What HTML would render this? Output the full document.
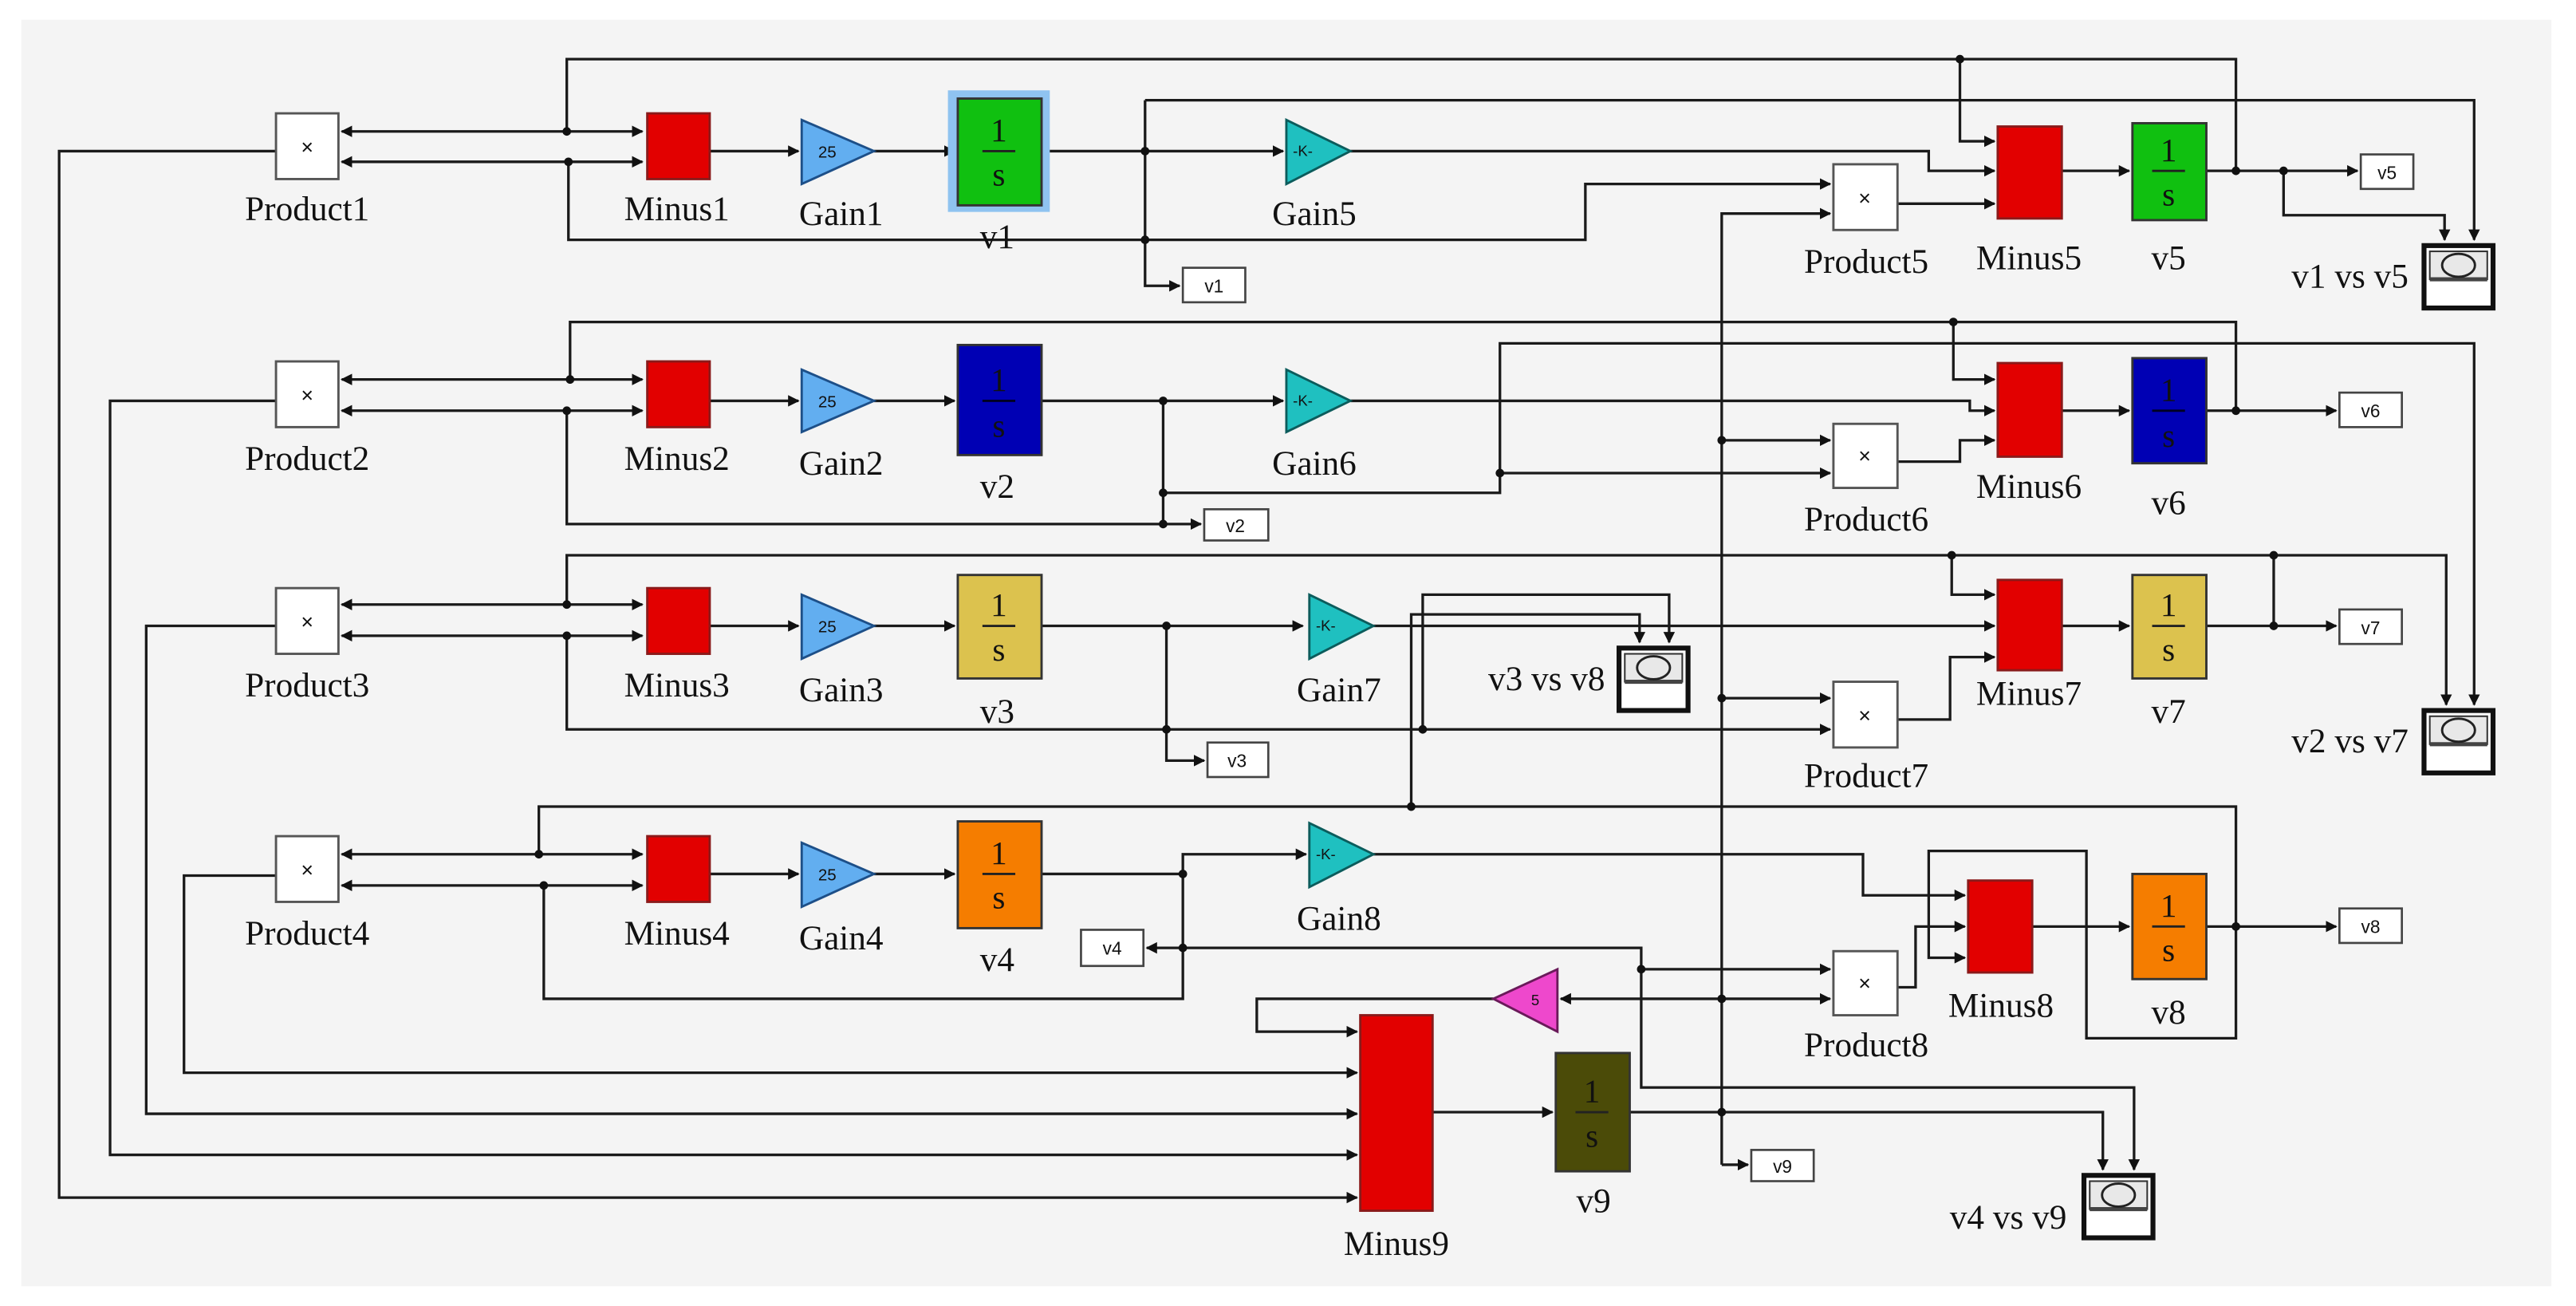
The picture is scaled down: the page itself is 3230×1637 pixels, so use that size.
<!DOCTYPE html>
<html><head><meta charset="utf-8"><style>
html,body{margin:0;padding:0;background:#fff;}
svg{display:block;}
text{font-family:"Liberation Serif",serif;fill:#111;}
</style></head><body>
<svg width="3230" height="1637" viewBox="0 0 1568 795" preserveAspectRatio="none" xmlns="http://www.w3.org/2000/svg">
<defs>
<marker id="a" viewBox="0 0 10 10" refX="9" refY="5" markerWidth="7" markerHeight="7" orient="auto" markerUnits="userSpaceOnUse"><path d="M0,0L10,5L0,10z" fill="#111"/></marker>
</defs>
<rect x="0" y="0" width="1568" height="795" fill="#fff"/>
<rect x="13" y="12" width="1540" height="771" fill="#f4f4f4"/>
<g fill="none" stroke="#1a1a1a" stroke-width="1.6">
<!-- Row1 -->
<path d="M345 80V36H1361V104"/>
<path d="M1193 36V86H1214" marker-end="url(#a)"/>
<path d="M345 80H208" marker-end="url(#a)"/><path d="M345 80H391" marker-end="url(#a)"/>
<path d="M346 98.5H208" marker-end="url(#a)"/><path d="M346 98.5H391" marker-end="url(#a)"/>
<path d="M346 98.5V146H965V112H1114" marker-end="url(#a)"/>
<path d="M168 92H36V729H826" marker-end="url(#a)"/>
<path d="M432 92H486" marker-end="url(#a)"/><path d="M532 92H581" marker-end="url(#a)"/>
<path d="M634 92H781" marker-end="url(#a)"/>
<path d="M697 61V174H718" marker-end="url(#a)"/>
<path d="M697 61H1506V146" marker-end="url(#a)"/>
<path d="M822 92H1174V104H1214" marker-end="url(#a)"/>
<path d="M1155 124H1214" marker-end="url(#a)"/>
<path d="M1255 104H1296" marker-end="url(#a)"/>
<path d="M1343 104H1435" marker-end="url(#a)"/>
<path d="M1390 104V131H1488V146" marker-end="url(#a)"/>
<path d="M1048 709V130H1114" marker-end="url(#a)"/>
<path d="M1048 709H1064" marker-end="url(#a)"/>
<!-- Row2 -->
<path d="M347 231V196H1361V250"/>
<path d="M1189 196V231H1214" marker-end="url(#a)"/>
<path d="M347 231H208" marker-end="url(#a)"/><path d="M347 231H391" marker-end="url(#a)"/>
<path d="M345 250H208" marker-end="url(#a)"/><path d="M345 250H391" marker-end="url(#a)"/>
<path d="M345 250V319H731" marker-end="url(#a)"/>
<path d="M168 244H67V703H826" marker-end="url(#a)"/>
<path d="M432 244H486" marker-end="url(#a)"/><path d="M532 244H581" marker-end="url(#a)"/>
<path d="M634 244H781" marker-end="url(#a)"/>
<path d="M708 244V319"/>
<path d="M708 300H913V209H1506V429" marker-end="url(#a)"/>
<path d="M913 288H1114" marker-end="url(#a)"/>
<path d="M1048 268H1114" marker-end="url(#a)"/>
<path d="M1155 281H1193V268H1214" marker-end="url(#a)"/>
<path d="M822 244H1199V250H1214" marker-end="url(#a)"/>
<path d="M1255 250H1296" marker-end="url(#a)"/>
<path d="M1343 250H1422" marker-end="url(#a)"/>
<!-- Row3 -->
<path d="M345 368V338H1489V429" marker-end="url(#a)"/>
<path d="M1188 338V362H1214" marker-end="url(#a)"/>
<path d="M1384 338V381"/>
<path d="M345 368H208" marker-end="url(#a)"/><path d="M345 368H391" marker-end="url(#a)"/>
<path d="M345 387H208" marker-end="url(#a)"/><path d="M345 387H391" marker-end="url(#a)"/>
<path d="M345 387V444H1114" marker-end="url(#a)"/>
<path d="M168 381H89V678H826" marker-end="url(#a)"/>
<path d="M432 381H486" marker-end="url(#a)"/><path d="M532 381H581" marker-end="url(#a)"/>
<path d="M634 381H793" marker-end="url(#a)"/>
<path d="M710 381V463H733" marker-end="url(#a)"/>
<path d="M836 381H1214" marker-end="url(#a)"/>
<path d="M866 444V362H1016V391" marker-end="url(#a)"/>
<path d="M859 491V374H998V391" marker-end="url(#a)"/>
<path d="M1048 425H1114" marker-end="url(#a)"/>
<path d="M1155 438H1187V400H1214" marker-end="url(#a)"/>
<path d="M1255 381H1296" marker-end="url(#a)"/>
<path d="M1343 381H1422" marker-end="url(#a)"/>
<!-- Row4 -->
<path d="M328 520V491H1361V632H1270V518H1174V583H1196" marker-end="url(#a)"/>
<path d="M328 520H208" marker-end="url(#a)"/><path d="M328 520H391" marker-end="url(#a)"/>
<path d="M331 539H208" marker-end="url(#a)"/><path d="M331 539H391" marker-end="url(#a)"/>
<path d="M331 539V608H720V532"/>
<path d="M168 533H112V653H826" marker-end="url(#a)"/>
<path d="M432 532H486" marker-end="url(#a)"/><path d="M532 532H581" marker-end="url(#a)"/>
<path d="M634 532H720V520H795" marker-end="url(#a)"/>
<path d="M720 577H698" marker-end="url(#a)"/>
<path d="M720 577H999V662H1299V712" marker-end="url(#a)"/>
<path d="M999 590H1114" marker-end="url(#a)"/>
<path d="M836 520H1134V545H1196" marker-end="url(#a)"/>
<path d="M1048 608H950" marker-end="url(#a)"/>
<path d="M1048 608H1114" marker-end="url(#a)"/>
<path d="M909 608H765V628H826" marker-end="url(#a)"/>
<path d="M1155 601H1166V564H1196" marker-end="url(#a)"/>
<path d="M1237 564H1296" marker-end="url(#a)"/>
<path d="M1343 564H1422" marker-end="url(#a)"/>
<path d="M872 677H945" marker-end="url(#a)"/>
<path d="M992 677H1280V712" marker-end="url(#a)"/>
</g>
<!-- dots -->
<g fill="#111">
<circle cx="345" cy="80" r="2.6"/><circle cx="346" cy="98.5" r="2.6"/><circle cx="697" cy="146" r="2.6"/><circle cx="697" cy="92" r="2.6"/><circle cx="1193" cy="36" r="2.6"/><circle cx="1361" cy="104" r="2.6"/><circle cx="1390" cy="104" r="2.6"/>
<circle cx="347" cy="231" r="2.6"/><circle cx="345" cy="250" r="2.6"/><circle cx="708" cy="244" r="2.6"/><circle cx="708" cy="300" r="2.6"/><circle cx="708" cy="319" r="2.6"/><circle cx="913" cy="288" r="2.6"/><circle cx="1189" cy="196" r="2.6"/><circle cx="1048" cy="268" r="2.6"/><circle cx="1361" cy="250" r="2.6"/>
<circle cx="345" cy="368" r="2.6"/><circle cx="345" cy="387" r="2.6"/><circle cx="710" cy="381" r="2.6"/><circle cx="710" cy="444" r="2.6"/><circle cx="866" cy="444" r="2.6"/><circle cx="1188" cy="338" r="2.6"/><circle cx="1384" cy="338" r="2.6"/><circle cx="1384" cy="381" r="2.6"/><circle cx="1048" cy="425" r="2.6"/>
<circle cx="328" cy="520" r="2.6"/><circle cx="331" cy="539" r="2.6"/><circle cx="720" cy="532" r="2.6"/><circle cx="720" cy="577" r="2.6"/><circle cx="859" cy="491" r="2.6"/><circle cx="999" cy="590" r="2.6"/><circle cx="1048" cy="608" r="2.6"/><circle cx="1048" cy="677" r="2.6"/><circle cx="1361" cy="564" r="2.6"/>
</g>
<!-- Products -->
<g fill="#fff" stroke="#555" stroke-width="1.4">
<rect x="168" y="69" width="38" height="40"/><rect x="168" y="220" width="38" height="40"/><rect x="168" y="358" width="38" height="40"/><rect x="168" y="509" width="38" height="40"/>
<rect x="1116" y="100" width="39" height="40"/><rect x="1116" y="258" width="39" height="39"/><rect x="1116" y="415" width="39" height="40"/><rect x="1116" y="579" width="39" height="39"/>
</g>
<g font-family="Liberation Sans,sans-serif" font-size="13" text-anchor="middle">
<text x="187" y="94" style="font-family:'Liberation Sans',sans-serif">×</text><text x="187" y="245" style="font-family:'Liberation Sans',sans-serif">×</text><text x="187" y="383" style="font-family:'Liberation Sans',sans-serif">×</text><text x="187" y="534" style="font-family:'Liberation Sans',sans-serif">×</text>
<text x="1135" y="125" style="font-family:'Liberation Sans',sans-serif">×</text><text x="1135" y="282" style="font-family:'Liberation Sans',sans-serif">×</text><text x="1135" y="440" style="font-family:'Liberation Sans',sans-serif">×</text><text x="1135" y="603" style="font-family:'Liberation Sans',sans-serif">×</text>
</g>
<!-- Minus blocks -->
<g fill="#e20000" stroke="#8a1a1a" stroke-width="1.4">
<rect x="394" y="69" width="38" height="40"/><rect x="394" y="220" width="38" height="40"/><rect x="394" y="358" width="38" height="40"/><rect x="394" y="509" width="38" height="40"/>
<rect x="1216" y="77" width="39" height="56"/><rect x="1216" y="221" width="39" height="57"/><rect x="1216" y="353" width="39" height="55"/><rect x="1198" y="536" width="39" height="56"/>
<rect x="828" y="618" width="44" height="119"/>
</g>
<!-- Gains 25 -->
<g fill="#62aef0" stroke="#1d4f88" stroke-width="1.4">
<path d="M488 73L532 92L488 112Z"/><path d="M488 225L532 244L488 263Z"/><path d="M488 362L532 381L488 401Z"/><path d="M488 513L532 532L488 552Z"/>
</g>
<g font-size="10" style="font-family:'Liberation Sans',sans-serif" fill="#123">
<text x="498" y="96" style="font-family:'Liberation Sans',sans-serif;font-size:10px">25</text><text x="498" y="248" style="font-family:'Liberation Sans',sans-serif;font-size:10px">25</text><text x="498" y="385" style="font-family:'Liberation Sans',sans-serif;font-size:10px">25</text><text x="498" y="536" style="font-family:'Liberation Sans',sans-serif;font-size:10px">25</text>
</g>
<!-- Gains K -->
<g fill="#1fc0c0" stroke="#0c5c5c" stroke-width="1.4">
<path d="M783 73L822 92L783 112Z"/><path d="M783 225L822 244L783 263Z"/><path d="M797 362L836 381L797 401Z"/><path d="M797 501L836 520L797 540Z"/>
</g>
<g style="font-family:'Liberation Sans',sans-serif;font-size:9px">
<text x="787" y="95" style="font-family:'Liberation Sans',sans-serif;font-size:9px">-K-</text><text x="787" y="247" style="font-family:'Liberation Sans',sans-serif;font-size:9px">-K-</text><text x="801" y="384" style="font-family:'Liberation Sans',sans-serif;font-size:9px">-K-</text><text x="801" y="523" style="font-family:'Liberation Sans',sans-serif;font-size:9px">-K-</text>
</g>
<!-- pink gain -->
<path d="M948 590L909 608L948 628Z" fill="#ee48cc" stroke="#6a1a5a" stroke-width="1.4"/>
<text x="932" y="612" style="font-family:'Liberation Sans',sans-serif;font-size:9px">5</text>
<!-- Integrators -->
<rect x="577" y="55" width="62" height="74" fill="#8fc3f0"/>
<g stroke="#333" stroke-width="1.4">
<rect x="583" y="60" width="51" height="65" fill="#10c010"/>
<rect x="583" y="210" width="51" height="67" fill="#0000b4"/>
<rect x="583" y="350" width="51" height="63" fill="#dcc24e"/>
<rect x="583" y="500" width="51" height="65" fill="#f57d00"/>
<rect x="1298" y="75" width="45" height="59" fill="#10c010"/>
<rect x="1298" y="218" width="45" height="64" fill="#0000b4"/>
<rect x="1298" y="350" width="45" height="63" fill="#dcc24e"/>
<rect x="1298" y="532" width="45" height="64" fill="#f57d00"/>
<rect x="947" y="641" width="45" height="72" fill="#4b4b08"/>
</g>
<g text-anchor="middle" font-size="20">
<text x="608" y="86">1</text><line x1="598" y1="92" x2="618" y2="92" stroke="#222" stroke-width="1.4"/><text x="608" y="113">s</text>
<text x="608" y="238" fill="#002">1</text><line x1="598" y1="244" x2="618" y2="244" stroke="#002" stroke-width="1.4"/><text x="608" y="266" fill="#002">s</text>
<text x="608" y="375">1</text><line x1="598" y1="381" x2="618" y2="381" stroke="#222" stroke-width="1.4"/><text x="608" y="402">s</text>
<text x="608" y="526">1</text><line x1="598" y1="532" x2="618" y2="532" stroke="#222" stroke-width="1.4"/><text x="608" y="553">s</text>
<text x="1320" y="98">1</text><line x1="1310" y1="104" x2="1330" y2="104" stroke="#222" stroke-width="1.4"/><text x="1320" y="125">s</text>
<text x="1320" y="244" fill="#002">1</text><line x1="1310" y1="250" x2="1330" y2="250" stroke="#002" stroke-width="1.4"/><text x="1320" y="272" fill="#002">s</text>
<text x="1320" y="375">1</text><line x1="1310" y1="381" x2="1330" y2="381" stroke="#222" stroke-width="1.4"/><text x="1320" y="402">s</text>
<text x="1320" y="558">1</text><line x1="1310" y1="564" x2="1330" y2="564" stroke="#222" stroke-width="1.4"/><text x="1320" y="585">s</text>
<text x="969" y="671">1</text><line x1="959" y1="677" x2="979" y2="677" stroke="#222" stroke-width="1.4"/><text x="969" y="698">s</text>
</g>
<!-- Gotos -->
<g fill="#fff" stroke="#444" stroke-width="1.3">
<rect x="720" y="163" width="38" height="21"/><rect x="733" y="310" width="39" height="19"/><rect x="735" y="452" width="37" height="21"/><rect x="658" y="566" width="38" height="22"/>
<rect x="1437" y="94" width="32" height="21"/><rect x="1424" y="239" width="38" height="21"/><rect x="1424" y="371" width="38" height="21"/><rect x="1424" y="553" width="38" height="21"/><rect x="1066" y="700" width="38" height="19"/>
</g>
<g style="font-family:'Liberation Sans',sans-serif;font-size:11px" text-anchor="middle">
<text x="739" y="178" style="font-family:'Liberation Sans',sans-serif;font-size:11px">v1</text><text x="752" y="324" style="font-family:'Liberation Sans',sans-serif;font-size:11px">v2</text><text x="753" y="467" style="font-family:'Liberation Sans',sans-serif;font-size:11px">v3</text><text x="677" y="581" style="font-family:'Liberation Sans',sans-serif;font-size:11px">v4</text>
<text x="1453" y="109" style="font-family:'Liberation Sans',sans-serif;font-size:11px">v5</text><text x="1443" y="254" style="font-family:'Liberation Sans',sans-serif;font-size:11px">v6</text><text x="1443" y="386" style="font-family:'Liberation Sans',sans-serif;font-size:11px">v7</text><text x="1443" y="568" style="font-family:'Liberation Sans',sans-serif;font-size:11px">v8</text><text x="1085" y="714" style="font-family:'Liberation Sans',sans-serif;font-size:11px">v9</text>
</g>
<!-- Scopes -->
<g>
<g transform="translate(1474,148)"><rect x="1.5" y="1.5" width="42" height="38" fill="#fff" stroke="#111" stroke-width="3"/><rect x="5" y="5" width="35" height="17" fill="#e8e8e8" stroke="#333" stroke-width="1"/><line x1="5" y1="22" x2="40" y2="22" stroke="#444" stroke-width="2.5"/><ellipse cx="22.5" cy="13.5" rx="10" ry="7" fill="none" stroke="#222" stroke-width="1.4"/></g>
<g transform="translate(1474,431)"><rect x="1.5" y="1.5" width="42" height="38" fill="#fff" stroke="#111" stroke-width="3"/><rect x="5" y="5" width="35" height="17" fill="#e8e8e8" stroke="#333" stroke-width="1"/><line x1="5" y1="22" x2="40" y2="22" stroke="#444" stroke-width="2.5"/><ellipse cx="22.5" cy="13.5" rx="10" ry="7" fill="none" stroke="#222" stroke-width="1.4"/></g>
<g transform="translate(984,393)"><rect x="1.5" y="1.5" width="42" height="38" fill="#fff" stroke="#111" stroke-width="3"/><rect x="5" y="5" width="35" height="17" fill="#e8e8e8" stroke="#333" stroke-width="1"/><line x1="5" y1="22" x2="40" y2="22" stroke="#444" stroke-width="2.5"/><ellipse cx="22.5" cy="13.5" rx="10" ry="7" fill="none" stroke="#222" stroke-width="1.4"/></g>
<g transform="translate(1267,714)"><rect x="1.5" y="1.5" width="42" height="38" fill="#fff" stroke="#111" stroke-width="3"/><rect x="5" y="5" width="35" height="17" fill="#e8e8e8" stroke="#333" stroke-width="1"/><line x1="5" y1="22" x2="40" y2="22" stroke="#444" stroke-width="2.5"/><ellipse cx="22.5" cy="13.5" rx="10" ry="7" fill="none" stroke="#222" stroke-width="1.4"/></g>
</g>
<!-- Labels -->
<g font-size="21" text-anchor="middle">
<text x="187" y="134">Product1</text><text x="412" y="134">Minus1</text><text x="512" y="137">Gain1</text><text x="607" y="151">v1</text><text x="800" y="137">Gain5</text>
<text x="1136" y="166">Product5</text><text x="1235" y="164">Minus5</text><text x="1320" y="164">v5</text>
<text x="187" y="286">Product2</text><text x="412" y="286">Minus2</text><text x="512" y="289">Gain2</text><text x="607" y="303">v2</text><text x="800" y="289">Gain6</text>
<text x="1136" y="323">Product6</text><text x="1235" y="303">Minus6</text><text x="1320" y="313">v6</text>
<text x="187" y="424">Product3</text><text x="412" y="424">Minus3</text><text x="512" y="427">Gain3</text><text x="607" y="440">v3</text><text x="815" y="427">Gain7</text>
<text x="1136" y="479">Product7</text><text x="1235" y="429">Minus7</text><text x="1320" y="440">v7</text>
<text x="187" y="575">Product4</text><text x="412" y="575">Minus4</text><text x="512" y="578">Gain4</text><text x="607" y="591">v4</text><text x="815" y="566">Gain8</text>
<text x="1136" y="643">Product8</text><text x="1218" y="619">Minus8</text><text x="1320" y="623">v8</text>
<text x="850" y="764">Minus9</text><text x="970" y="738">v9</text>
</g>
<g font-size="21" text-anchor="end">
<text x="1466" y="175">v1 vs v5</text><text x="1466" y="458">v2 vs v7</text><text x="977" y="420">v3 vs v8</text><text x="1258" y="748">v4 vs v9</text>
</g>
</svg>
</body></html>
